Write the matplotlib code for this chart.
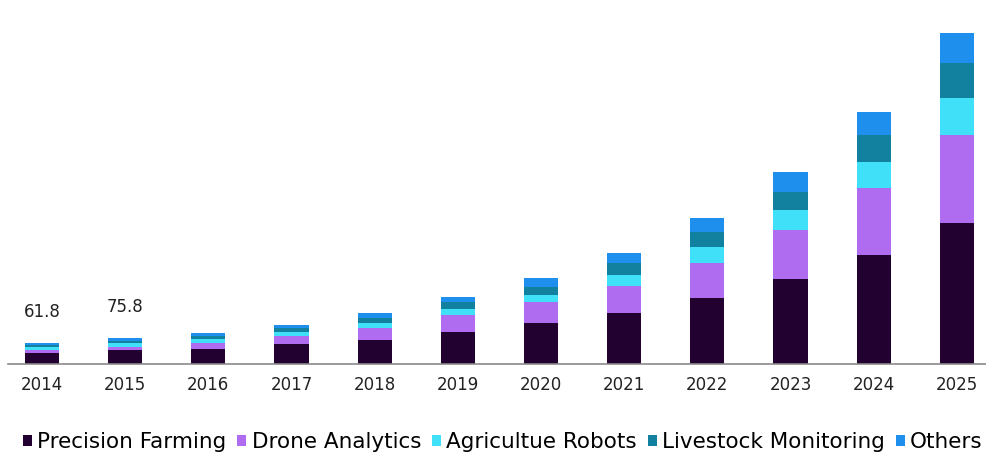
import matplotlib
matplotlib.use('Agg')
import matplotlib.pyplot as plt
import numpy as np

plt.rcParams['font.family'] = ['DejaVu Sans']

years = ['2014', '2015', '2016', '2017', '2018', '2019',
         '2020', '2021', '2022', '2023', '2024', '2025']

# market size by segment
precision_farming = [31.4, 40.0, 42.8, 57.0, 68.4, 91.2, 116.9, 145.4, 188.1, 242.3, 310.7, 401.9]
drone_analytics = [8.6, 8.6, 17.1, 22.8, 34.2, 48.5, 59.9, 77.0, 99.8, 139.7, 191.0, 250.8]
agri_robots = [8.6, 11.4, 11.4, 11.4, 14.3, 17.1, 20.0, 31.4, 45.6, 57.0, 74.1, 105.5]
livestock = [5.7, 7.9, 8.6, 11.4, 14.3, 20.0, 22.8, 34.2, 42.8, 51.3, 77.0, 99.8]
others = [7.5, 7.9, 8.6, 10.0, 14.3, 14.3, 25.7, 28.5, 39.9, 57.0, 65.6, 85.5]

labels = ['Precision Farming', 'Drone Analytics', 'Agricultue Robots',
          'Livestock Monitoring', 'Others']
colors = ['#22002f', '#b06cf0', '#3fe0f8', '#12809f', '#1e8fec']

# only the first two years carry a value label
shown_labels = {0: '61.8', 1: '75.8'}

fig = plt.figure(figsize=(9.86, 4.55), dpi=100)
ax = fig.add_axes([0.008, 0.199, 0.992, 0.771])

x = np.arange(len(years))
series = [precision_farming, drone_analytics, agri_robots, livestock, others]
bottom = np.zeros(len(years))
handles = []
for vals, lab, col in zip(series, labels, colors):
    b = ax.bar(x, vals, width=0.41, bottom=bottom, color=col, label=lab,
               linewidth=0)
    handles.append(b)
    bottom = bottom + np.array(vals)

for i, txt in shown_labels.items():
    ax.annotate(txt, (x[i], bottom[i]), xytext=(0, 22), textcoords='offset points',
                ha='center', va='center', fontsize=12, color='#222222')

ax.set_xlim(-0.41, 11.35)
ax.set_ylim(0, 1000)
ax.set_xticks(x)
ax.set_xticklabels(years, fontsize=12, color='#222222')
ax.tick_params(axis='x', length=0, pad=8)
ax.set_yticks([])
for s in ['top', 'right', 'left']:
    ax.spines[s].set_visible(False)
ax.spines['bottom'].set_color('#8a8a8a')
ax.spines['bottom'].set_linewidth(1.2)

fig.legend(handles=handles, labels=labels, loc='center left',
           bbox_to_anchor=(0.023, 0.029), ncol=5, frameon=False,
           fontsize=15.5, handlelength=0.42, handleheight=0.42,
           handletextpad=0.25, columnspacing=0.5, borderaxespad=0,
           borderpad=0)

fig.savefig('out.png', dpi=100, facecolor='white')
